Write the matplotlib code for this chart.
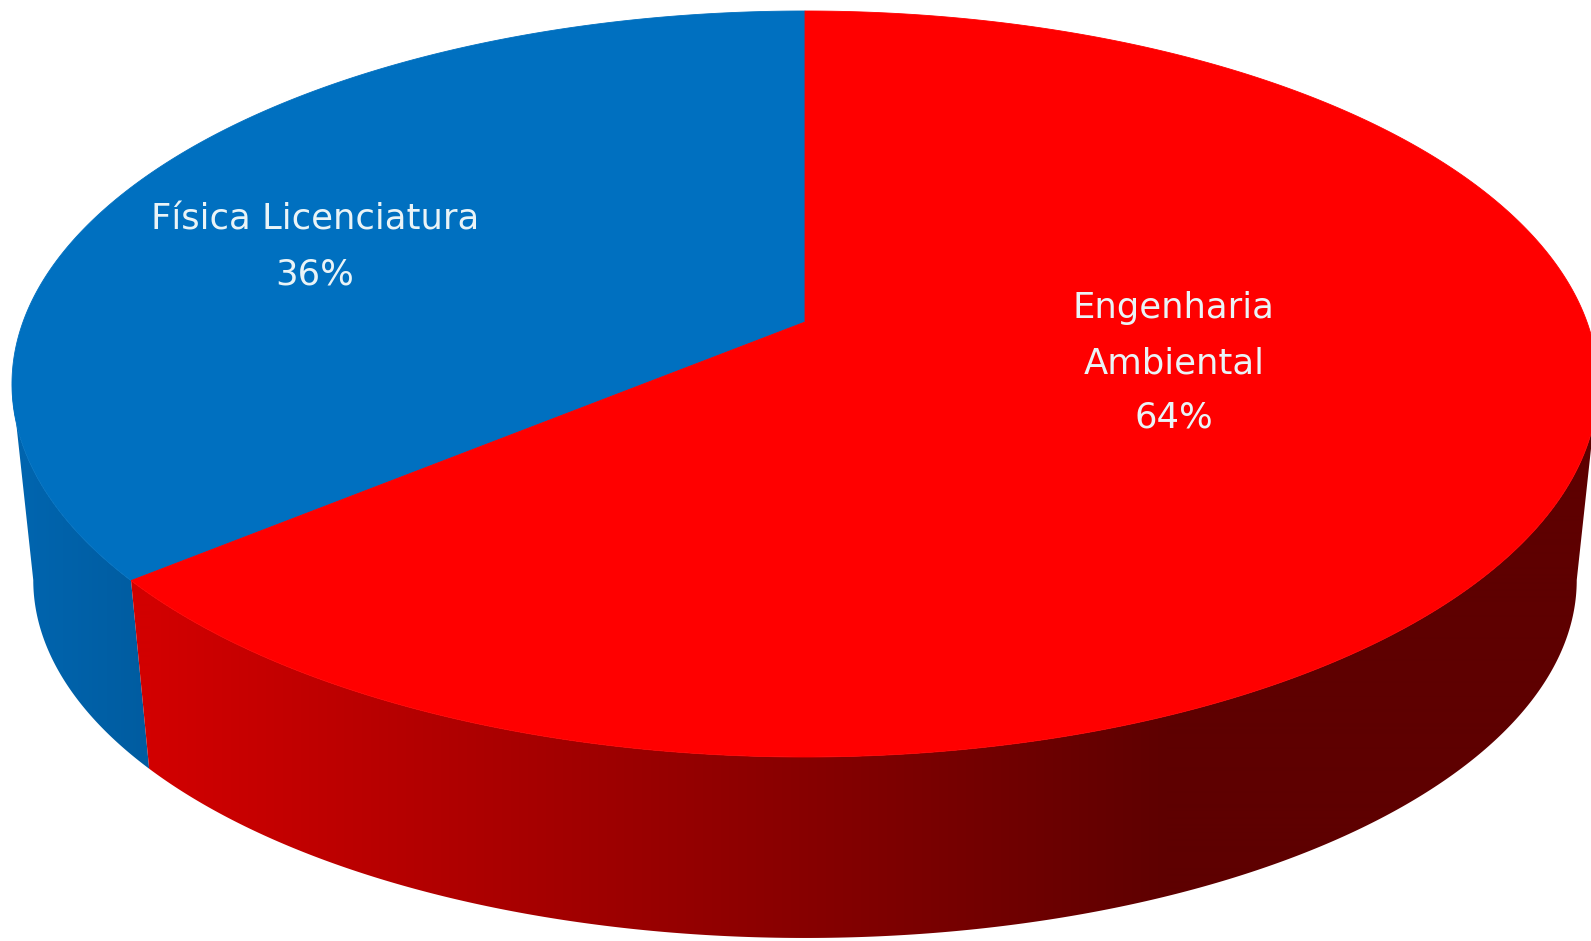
import numpy as np
import matplotlib
matplotlib.use("Agg")
import matplotlib.pyplot as plt
from matplotlib.patches import Polygon

labels = ["Física Licenciatura", "Engenharia\nAmbiental"]
values = [36, 64]
top_colors = ["#0070C0", "#FF0000"]

# picture geometry (pixels)
W, H = 1591, 941
cx = 805
k = 0.1662                  # perspective
top = (322.0, 782.0, 362.7)      # apex y, half width, half height of top face
bot = (520.6, 761.0, 348.0)      # same for the bottom face


def proj(theta, r=1.0, bottom=False):
    cy, A, B = bot if bottom else top
    th = np.radians(theta)
    u = r*np.cos(th)
    v = r*np.sin(th)
    w = 1 + k*v
    return cx + A*u/w, cy - B*v/w


fig = plt.figure(figsize=(W/100, H/100), dpi=100)
ax = fig.add_axes([0, 0, 1, 1])
ax.set_xlim(0, W)
ax.set_ylim(H, 0)
ax.axis('off')

fr = np.array(values)/np.sum(values)
starts = 90 + 360*np.concatenate([[0], np.cumsum(fr)[:-1]])
ends = starts + 360*fr

# silhouette angles of the wall (left and right)
sil = np.degrees(np.arcsin(k))
left_sil, right_sil = 180 + sil, 360 - sil


def side_patch(a, b):
    t = np.linspace(a, b, 300)
    xt, yt = proj(t)
    xb, yb = proj(t[::-1], bottom=True)
    return np.column_stack([np.concatenate([xt, xb]), np.concatenate([yt, yb])])


def gradient(xs, x0, x1, c0, c1):
    f = np.clip((xs - x0)/(x1 - x0), 0, 1)[:, None]
    return ((1 - f)*np.array(c0) + f*np.array(c1))/255.0


xs = np.arange(W) + 0.5
side_ranges = [(left_sil, ends[0]), (starts[1], right_sil)]
side_grads = [gradient(xs, 20, 150, (0, 101, 175), (0, 92, 160)),
              gradient(xs, 152, 1167, (210, 0, 0), (94, 0, 0))]
for (a, b), g in zip(side_ranges, side_grads):
    poly = Polygon(side_patch(a, b), closed=True, facecolor='none', edgecolor='none')
    ax.add_patch(poly)
    img = np.repeat(g[None, :, :], 2, axis=0)
    im = ax.imshow(img, extent=[0, W, H, 0], aspect='auto', interpolation='bilinear', zorder=1)
    im.set_clip_path(poly)

# top face wedges
x0, y0 = proj(0, r=0)
for a, b, c in zip(starts, ends, top_colors):
    t = np.linspace(a, b, 400)
    x, y = proj(t)
    pts = np.column_stack([np.concatenate([[x0], x]), np.concatenate([[y0], y])])
    ax.add_patch(Polygon(pts, closed=True, facecolor=c, edgecolor=c, lw=0.6, zorder=3))

# data labels
label_r = [0.684, 0.476]
label_shift = [6.9, 11.7]
for lab, v, a, b, r, s in zip(labels, values, starts, ends, label_r, label_shift):
    lx, ly = proj((a + b)/2 + s, r=r)
    ax.text(lx, ly, f"{lab}\n{v}%", ha='center', va='center',
            fontsize=25.5, color='#EAF4F7', linespacing=1.77, zorder=5,
            family='DejaVu Sans')

fig.savefig("out.png", dpi=100, facecolor='white')
